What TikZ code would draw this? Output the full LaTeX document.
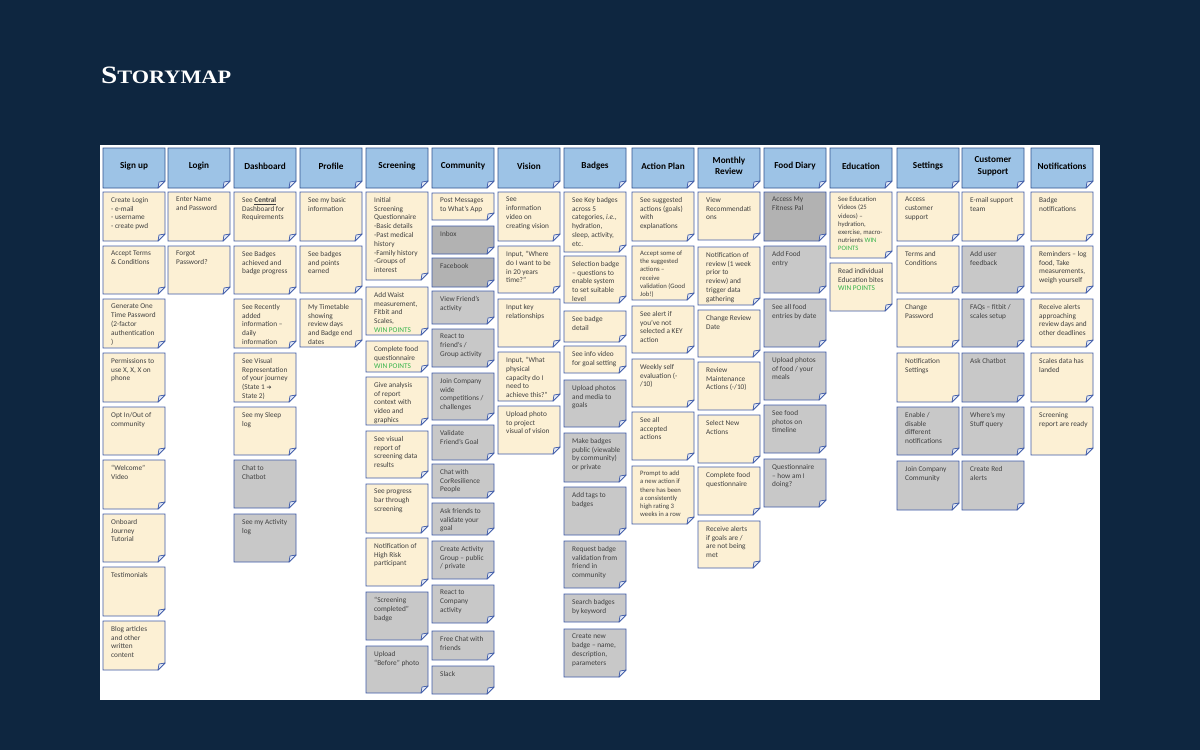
\documentclass[tikz,border=0pt]{standalone}
\usepackage{fontspec}
\usepackage{graphicx}
\setmainfont{Carlito}
\newfontfamily\titlefont{Liberation Serif}
\newfontfamily\arrowfont{DejaVu Sans}
\definecolor{bgc}{HTML}{0E2640}
\definecolor{creamc}{HTML}{FCF0D4}
\definecolor{grayc}{HTML}{C8C8C8}
\definecolor{dgrayc}{HTML}{B2B2B2}
\definecolor{hdrc}{HTML}{9DC3E6}
\definecolor{linec}{HTML}{3F5BA9}
\definecolor{hlinec}{HTML}{2F528F}
\definecolor{flapc}{HTML}{E2E8F4}
\definecolor{txtc}{HTML}{404040}
\definecolor{winc}{HTML}{35B34A}
\newcommand\cardfont{\fontsize{7.3pt}{8.8pt}\selectfont}
\newcommand\smallcard{\fontsize{6.7pt}{8.1pt}\selectfont}
\newcommand\win[1]{\textcolor{winc}{#1}}
\tikzset{
  card/.style={draw=linec, line width=0.9pt, line join=miter},
  creamcard/.style={fill=creamc},
  graycard/.style={fill=grayc},
  darkcard/.style={fill=dgrayc},
  flap/.style={draw=linec, line width=0.7pt, fill=flapc, line join=round},
  hdrbox/.style={draw=hlinec, line width=0.9pt, fill=hdrc},
  cardtext/.style={anchor=north west, inner sep=0pt, align=left, font=\cardfont, text=txtc},
  smalltext/.style={font=\smallcard},
  hdrtext/.style={inner sep=0pt, align=center, font=\fontsize{9.2pt}{11.5pt}\selectfont\bfseries, text=black},
}
% sticky note: [node opts]{name}{x0}{y0}{y1}{fill style}{text}
\newcommand\stick[7][]{%
  \path[card,#6] (#3,#4) -- (#3+62,#4) -- (#3+62,#5-7) -- (#3+55,#5) -- (#3,#5) -- cycle;
  \path[flap] (#3+55,#5) -- (#3+62,#5-7) -- (#3+56,#5-6) -- cycle;
  \node[cardtext,#1] (#2) at (#3+8,#4+5) {#7};
}
% header: {name}{x0}{text}
\newcommand\hdr[3]{%
  \path[hdrbox] (#2,148) -- (#2+62,148) -- (#2+62,181) -- (#2+55,188) -- (#2,188) -- cycle;
  \path[flap] (#2+55,188) -- (#2+62,181) -- (#2+56,182) -- cycle;
  \node[hdrtext] (#1) at (#2+31,166) {#3};
}
\begin{document}
\begin{tikzpicture}[x=1pt,y=-1pt]
\useasboundingbox (0,0) rectangle (1200,750);
\fill[bgc] (0,0) rectangle (1200,750);
\fill[white] (100,145) rectangle (1100,700);
\node[anchor=base west, inner sep=0pt, text=white] (title) at (101,83)
  {\scalebox{1.17}[1]{\titlefont\bfseries\fontsize{25pt}{25pt}\selectfont S\fontsize{19pt}{19pt}\selectfont TORYMAP}};

% headers
\hdr{hSign}{103}{Sign up}
\hdr{hLogin}{168}{Login}
\hdr{hDash}{234}{Dashboard}
\hdr{hProf}{300}{Profile}
\hdr{hScr}{366}{Screening}
\hdr{hCom}{432}{Community}
\hdr{hVis}{498}{Vision}
\hdr{hBad}{564}{Badges}
\hdr{hAct}{632}{Action Plan}
\hdr{hMon}{698}{Monthly\\Review}
\hdr{hFood}{764}{Food Diary}
\hdr{hEdu}{830}{Education}
\hdr{hSet}{897}{Settings}
\hdr{hCS}{962}{Customer\\Support}
\hdr{hNot}{1031}{Notifications}

% Sign up
\stick{su1}{103}{192}{241}{creamcard}{Create Login\\- e-mail\\- username\\- create pwd}
\stick{su2}{103}{246}{294}{creamcard}{Accept Terms\\\& Conditions}
\stick{su3}{103}{299}{348}{creamcard}{Generate One\\Time Password\\(2-factor\\authentication\\)}
\stick{su4}{103}{353}{402}{creamcard}{Permissions to\\use X, X, X on\\phone}
\stick{su5}{103}{407}{455}{creamcard}{Opt In/Out of\\community}
\stick{su6}{103}{460}{509}{creamcard}{“Welcome”\\Video}
\stick{su7}{103}{514}{562}{creamcard}{Onboard\\Journey\\Tutorial}
\stick{su8}{103}{567}{616}{creamcard}{Testimonials}
\stick{su9}{103}{621}{670}{creamcard}{Blog articles\\and other\\written\\content}

% Login
\stick{lg1}{168}{192}{241}{creamcard}{Enter Name\\and Password}
\stick{lg2}{168}{246}{294}{creamcard}{Forgot\\Password?}

% Dashboard
\stick{db1}{234}{192}{241}{creamcard}{See \textbf{\underline{Central}}\\Dashboard for\\Requirements}
\stick{db2}{234}{246}{294}{creamcard}{See Badges\\achieved and\\badge progress}
\stick{db3}{234}{299}{348}{creamcard}{See Recently\\added\\information –\\daily\\information}
\stick{db4}{234}{353}{402}{creamcard}{See Visual\\Representation\\of your journey\\(State 1 {\arrowfont\bfseries\fontsize{6pt}{8pt}\selectfont ➔}\\State 2)}
\stick{db5}{234}{407}{455}{creamcard}{See my Sleep\\log}
\stick{db6}{234}{460}{508}{graycard}{Chat to\\Chatbot}
\stick{db7}{234}{514}{562}{graycard}{See my Activity\\log}

% Profile
\stick{pr1}{300}{192}{241}{creamcard}{See my basic\\information}
\stick{pr2}{300}{246}{293}{creamcard}{See badges\\and points\\earned}
\stick{pr3}{300}{299}{347}{creamcard}{My Timetable\\showing\\review days\\and Badge end\\dates}

% Screening
\stick{sc1}{366}{192}{280}{creamcard}{Initial\\Screening\\Questionnaire\\-Basic details\\-Past medical\\history\\-Family history\\-Groups of\\interest}
\stick{sc2}{366}{287}{335}{creamcard}{Add Waist\\measurement,\\Fitbit and\\Scales,\\\win{WIN POINTS}}
\stick{sc3}{366}{341}{372}{creamcard}{Complete food\\questionnaire\\\win{WIN POINTS}}
\stick{sc4}{366}{377}{425}{creamcard}{Give analysis\\of report\\context with\\video and\\graphics}
\stick{sc5}{366}{431}{478}{creamcard}{See visual\\report of\\screening data\\results}
\stick{sc6}{366}{484}{533}{creamcard}{See progress\\bar through\\screening}
\stick{sc7}{366}{538}{586}{creamcard}{Notification of\\High Risk\\participant}
\stick{sc8}{366}{592}{640}{graycard}{“Screening\\completed”\\badge}
\stick{sc9}{366}{646}{693}{graycard}{Upload\\“Before” photo}

% Community
\stick{cm1}{432}{193}{220}{creamcard}{Post Messages\\to What’s App}
\stick{cm2}{432}{226}{254}{darkcard}{Inbox}
\stick{cm3}{432}{258}{287}{darkcard}{Facebook}
\stick{cm4}{432}{291}{324}{graycard}{View Friend’s\\activity}
\stick{cm5}{432}{329}{367}{graycard}{React to\\friend’s /\\Group activity}
\stick{cm6}{432}{373}{420}{graycard}{Join Company\\wide\\competitions /\\challenges}
\stick{cm7}{432}{425}{460}{graycard}{Validate\\Friend’s Goal}
\stick{cm8}{432}{464}{498}{graycard}{Chat with\\CorResilience\\People}
\stick{cm9}{432}{503}{535}{graycard}{Ask friends to\\validate your\\goal}
\stick{cm10}{432}{541}{579}{graycard}{Create Activity\\Group – public\\/ private}
\stick{cm11}{432}{585}{623}{graycard}{React to\\Company\\activity}
\stick{cm12}{432}{631}{660}{graycard}{Free Chat with\\friends}
\stick{cm13}{432}{666}{694}{graycard}{Slack}

% Vision
\stick{vi1}{498}{192}{241}{creamcard}{See\\information\\video on\\creating vision}
\stick{vi2}{498}{246}{293}{creamcard}{Input, “Where\\do I want to be\\in 20 years\\time?”}
\stick{vi3}{498}{299}{347}{creamcard}{Input key\\relationships}
\stick{vi4}{498}{352}{401}{creamcard}{Input, “What\\physical\\capacity do I\\need to\\achieve this?”}
\stick{vi5}{498}{406}{454}{creamcard}{Upload photo\\to project\\visual of vision}

% Badges
\stick{bd1}{564}{192}{252}{creamcard}{See Key badges\\across 5\\categories, \textit{i.e.},\\hydration,\\sleep, activity,\\etc.}
\stick{bd2}{564}{256}{303}{creamcard}{Selection badge\\– questions to\\enable system\\to set suitable\\level}
\stick{bd3}{564}{311}{342}{creamcard}{See badge\\detail}
\stick{bd4}{564}{346}{373}{creamcard}{See info video\\for goal setting}
\stick{bd5}{564}{380}{427}{graycard}{Upload photos\\and media to\\goals}
\stick{bd6}{564}{433}{482}{graycard}{Make badges\\public (viewable\\by community)\\or private}
\stick{bd7}{564}{487}{535}{graycard}{Add tags to\\badges}
\stick{bd8}{564}{541}{588}{graycard}{Request badge\\validation from\\friend in\\community}
\stick{bd9}{564}{594}{622}{graycard}{Search badges\\by keyword}
\stick{bd10}{564}{629}{677}{graycard}{Create new\\badge – name,\\description,\\parameters}

% Action Plan
\stick{ap1}{632}{192}{241}{creamcard}{See suggested\\actions (goals)\\with\\explanations}
\stick[smalltext]{ap2}{632}{246}{300}{creamcard}{Accept some of\\the suggested\\actions –\\receive\\validation (Good\\Job!)}
\stick{ap3}{632}{306}{353}{creamcard}{See alert if\\you’ve not\\selected a KEY\\action}
\stick{ap4}{632}{359}{407}{creamcard}{Weekly self\\evaluation (-\\/10)}
\stick{ap5}{632}{412}{460}{creamcard}{See all\\accepted\\actions}
\stick[smalltext]{ap6}{632}{466}{524}{creamcard}{Prompt to add\\a new action if\\there has been\\a consistently\\high rating 3\\weeks in a row}

% Monthly Review
\stick{mr1}{698}{192}{240}{creamcard}{View\\Recommendati\\ons}
\stick{mr2}{698}{247}{305}{creamcard}{Notification of\\review (1 week\\prior to\\review) and\\trigger data\\gathering}
\stick{mr3}{698}{310}{357}{creamcard}{Change Review\\Date}
\stick{mr4}{698}{362}{410}{creamcard}{Review\\Maintenance\\Actions (-/10)}
\stick{mr5}{698}{415}{463}{creamcard}{Select New\\Actions}
\stick{mr6}{698}{467}{515}{creamcard}{Complete food\\questionnaire}
\stick{mr7}{698}{521}{568}{creamcard}{Receive alerts\\if goals are /\\are not being\\met}

% Food Diary
\stick{fd1}{764}{192}{241}{darkcard}{Access My\\Fitness Pal}
\stick{fd2}{764}{246}{293}{graycard}{Add Food\\entry}
\stick{fd3}{764}{299}{347}{graycard}{See all food\\entries by date}
\stick{fd4}{764}{352}{400}{graycard}{Upload photos\\of food / your\\meals}
\stick{fd5}{764}{405}{453}{graycard}{See food\\photos on\\timeline}
\stick{fd6}{764}{459}{507}{graycard}{Questionnaire\\– how am I\\doing?}

% Education
\stick[smalltext]{ed1}{830}{192}{258}{creamcard}{See Education\\Videos (25\\videos) –\\hydration,\\exercise, macro-\\nutrients \win{WIN}\\\win{POINTS}}
\stick{ed2}{830}{263}{311}{creamcard}{Read individual\\Education bites\\\win{WIN POINTS}}

% Settings
\stick{st1}{897}{192}{241}{creamcard}{Access\\customer\\support}
\stick{st2}{897}{246}{293}{creamcard}{Terms and\\Conditions}
\stick{st3}{897}{299}{347}{creamcard}{Change\\Password}
\stick{st4}{897}{353}{402}{creamcard}{Notification\\Settings}
\stick{st5}{897}{407}{455}{graycard}{Enable /\\disable\\different\\notifications}
\stick{st6}{897}{461}{510}{graycard}{Join Company\\Community}

% Customer Support
\stick{cs1}{962}{192}{241}{creamcard}{E-mail support\\team}
\stick{cs2}{962}{246}{293}{graycard}{Add user\\feedback}
\stick{cs3}{962}{299}{347}{graycard}{FAQs – fitbit /\\scales setup}
\stick{cs4}{962}{353}{402}{graycard}{Ask Chatbot}
\stick{cs5}{962}{407}{455}{graycard}{Where’s my\\Stuff query}
\stick{cs6}{962}{461}{510}{graycard}{Create Red\\alerts}

% Notifications
\stick{nt1}{1031}{192}{241}{creamcard}{Badge\\notifications}
\stick{nt2}{1031}{246}{293}{creamcard}{Reminders – log\\food, Take\\measurements,\\weigh yourself}
\stick{nt3}{1031}{299}{347}{creamcard}{Receive alerts\\approaching\\review days and\\other deadlines}
\stick{nt4}{1031}{353}{402}{creamcard}{Scales data has\\landed}
\stick{nt5}{1031}{407}{455}{creamcard}{Screening\\report are ready}
\end{tikzpicture}
\end{document}
